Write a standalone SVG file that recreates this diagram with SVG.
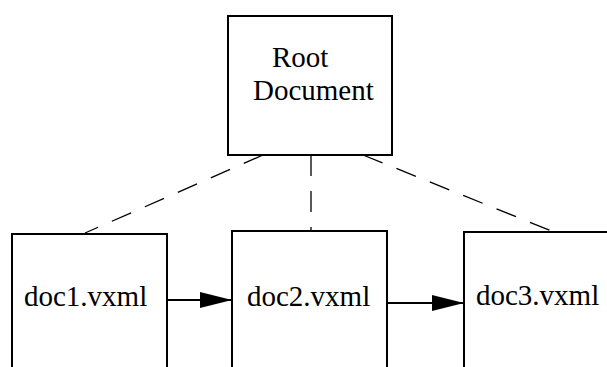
<svg xmlns="http://www.w3.org/2000/svg" width="607" height="367" viewBox="0 0 607 367">
<style>
.box{fill:#fff;stroke:#000;stroke-width:2}
.lbl{font-family:"Liberation Serif","Times New Roman",serif;font-size:29px;fill:#000}
.dash{stroke:#000;stroke-width:1.3;stroke-dasharray:21 15;fill:none}
.arr{stroke:#000;stroke-width:2;fill:none}
</style>
<defs>
<marker id="ah" markerUnits="userSpaceOnUse" markerWidth="32" markerHeight="18" refX="32" refY="9" orient="auto">
<path d="M0,1 L32,9 L0,17 Z" fill="#000"/>
</marker>
</defs>
<g id="connectors">
<line class="dash" x1="263" y1="155" x2="85" y2="233"/>
<line class="dash" x1="311" y1="155" x2="311" y2="231"/>
<line class="dash" x1="363" y1="155" x2="554" y2="232"/>
<line class="arr" x1="167" y1="300" x2="232" y2="300" marker-end="url(#ah)"/>
<line class="arr" x1="387" y1="303" x2="464" y2="303" marker-end="url(#ah)"/>
</g>
<g id="root">
<rect class="box" x="228" y="16" width="164" height="139"/>
<text class="lbl" x="272" y="67">Root</text>
<text class="lbl" x="253" y="100">Document</text>
</g>
<g id="doc1">
<rect class="box" x="12" y="234" width="155" height="150"/>
<text class="lbl" x="24" y="306">doc1.vxml</text>
</g>
<g id="doc2">
<rect class="box" x="232" y="231" width="155" height="150"/>
<text class="lbl" x="247" y="306">doc2.vxml</text>
</g>
<g id="doc3">
<rect class="box" x="464" y="232" width="160" height="150"/>
<text class="lbl" x="476" y="305">doc3.vxml</text>
</g>
</svg>
